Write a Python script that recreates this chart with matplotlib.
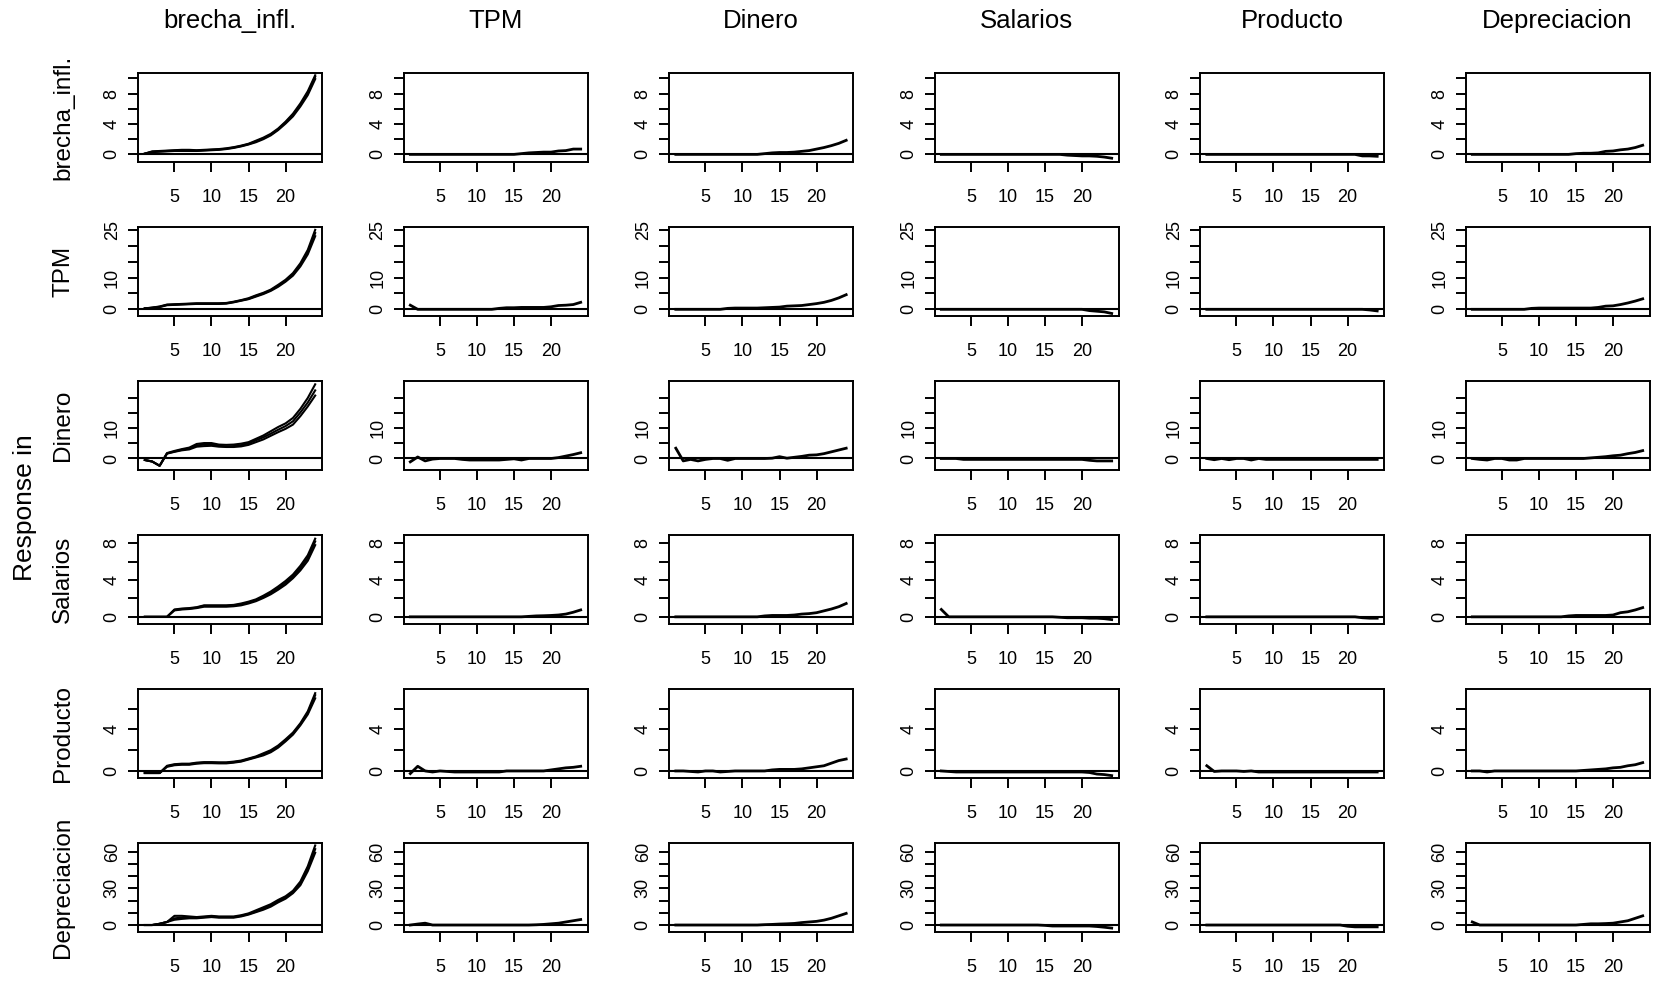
import numpy as np
import matplotlib.pyplot as plt

plt.rcParams["font.family"] = ["Liberation Sans", "DejaVu Sans"]

variables = ["brecha_infl.", "TPM", "Dinero", "Salarios", "Producto", "Depreciacion"]
horizon = list(range(1, 25))

# responses of each variable (row) to a shock in each variable (column)
resp_brecha = [
    [0.1, 0.35, 0.4, 0.45, 0.5, 0.55, 0.5, 0.5, 0.55, 0.6, 0.65, 0.75, 0.9, 1.1, 1.35, 1.7, 2.1, 2.6, 3.3, 4.2, 5.2, 6.5, 8.1, 10.2],
    [0, 0, 0, 0, 0, 0, 0, 0, 0, 0, 0, 0, 0, 0, 0, 0.1, 0.2, 0.25, 0.3, 0.3, 0.45, 0.5, 0.7, 0.7],
    [0, 0, 0, 0, 0, 0, 0, 0, 0, 0, 0, 0, 0.1, 0.2, 0.25, 0.25, 0.3, 0.4, 0.5, 0.7, 0.9, 1.15, 1.45, 1.85],
    [0, 0, 0, 0, 0, 0, 0, 0, 0, 0, 0, 0, 0, 0, 0, 0, 0, -0.1, -0.15, -0.2, -0.2, -0.25, -0.35, -0.5],
    [0, 0, 0, 0, 0, 0, 0, 0, 0, 0, 0, 0, 0, 0, 0, 0, 0, 0, 0, 0, 0, -0.2, -0.2, -0.25],
    [0, 0, 0, 0, 0, 0, 0, 0, 0, 0, 0, 0, 0, 0, 0.1, 0.15, 0.15, 0.2, 0.4, 0.45, 0.6, 0.7, 0.9, 1.2],
]
resp_tpm = [
    [0.3, 0.5, 0.8, 1.4, 1.5, 1.6, 1.7, 1.8, 1.8, 1.8, 1.8, 1.9, 2.3, 2.8, 3.3, 4.2, 5.0, 6.0, 7.4, 9.0, 11.0, 14.0, 18.0, 24.0],
    [1.3, 0, 0, 0, 0, 0, 0, 0, 0, 0, 0, 0, 0.3, 0.5, 0.5, 0.6, 0.6, 0.6, 0.6, 0.8, 1.2, 1.3, 1.5, 2.2],
    [0, 0, 0, 0, 0, 0, 0, 0.3, 0.4, 0.4, 0.4, 0.4, 0.5, 0.6, 0.7, 1.0, 1.1, 1.2, 1.5, 1.8, 2.2, 2.8, 3.6, 4.6],
    [0, 0, 0, 0, 0, 0, 0, 0, 0, 0, 0, 0, 0, 0, 0, 0, 0, 0, 0, 0, -0.4, -0.6, -0.8, -1.3],
    [0, 0, 0, 0, 0, 0, 0, 0, 0, 0, 0, 0, 0, 0, 0, 0, 0, 0, 0, 0, 0, 0, -0.2, -0.5],
    [0, 0, 0, 0, 0, 0, 0, 0, 0.3, 0.4, 0.4, 0.4, 0.4, 0.4, 0.4, 0.4, 0.4, 0.6, 1.0, 1.1, 1.5, 2.0, 2.6, 3.3],
]
resp_dinero = [
    [-0.5, -1.0, -2.4, 1.7, 2.3, 2.9, 3.3, 4.3, 4.6, 4.6, 4.2, 4.0, 4.1, 4.4, 5.0, 6.0, 7.0, 8.2, 9.5, 10.7, 12.3, 15.2, 18.5, 22.5],
    [-1.1, 0.5, -0.8, -0.2, 0, 0, 0, -0.3, -0.5, -0.5, -0.5, -0.5, -0.5, -0.3, -0.1, -0.5, 0, 0, 0, 0, 0.3, 0.8, 1.3, 1.9],
    [3.4, -0.8, -0.3, -0.8, -0.3, 0, 0, -0.6, 0, 0, 0, 0, 0, 0.1, 0.6, 0.1, 0.4, 0.7, 1.1, 1.2, 1.6, 2.2, 2.8, 3.4],
    [0, 0, 0, -0.3, -0.3, -0.3, -0.3, -0.3, -0.3, -0.3, -0.3, -0.3, -0.3, -0.3, -0.3, -0.3, -0.3, -0.3, -0.3, -0.3, -0.6, -0.8, -0.8, -0.8],
    [0, -0.4, 0, -0.4, 0, 0, -0.5, 0, -0.3, -0.3, -0.3, -0.3, -0.3, -0.3, -0.3, -0.3, -0.3, -0.3, -0.3, -0.3, -0.3, -0.3, -0.3, -0.3],
    [0, -0.3, -0.5, 0, 0, -0.5, -0.5, 0, 0, 0, 0, 0, 0, 0, 0, 0, 0.2, 0.4, 0.6, 0.9, 1.1, 1.6, 2.0, 2.6],
]
resp_salarios = [
    [0, 0, 0, 0, 0.75, 0.85, 0.9, 1.0, 1.2, 1.2, 1.2, 1.2, 1.25, 1.35, 1.55, 1.8, 2.2, 2.6, 3.1, 3.7, 4.4, 5.3, 6.4, 8.2],
    [0, 0, 0, 0, 0, 0, 0, 0, 0, 0, 0, 0, 0, 0, 0, 0, 0.05, 0.1, 0.12, 0.15, 0.2, 0.3, 0.5, 0.75],
    [0, 0, 0, 0, 0, 0, 0, 0, 0, 0, 0, 0, 0.1, 0.15, 0.15, 0.15, 0.2, 0.3, 0.35, 0.45, 0.65, 0.85, 1.1, 1.45],
    [0.8, 0, 0, 0, 0, 0, 0, 0, 0, 0, 0, 0, 0, 0, 0, 0, -0.05, -0.1, -0.1, -0.1, -0.15, -0.15, -0.2, -0.3],
    [0, 0, 0, 0, 0, 0, 0, 0, 0, 0, 0, 0, 0, 0, 0, 0, 0, 0, 0, 0, 0, -0.1, -0.15, -0.15],
    [0, 0, 0, 0, 0, 0, 0, 0, 0, 0, 0, 0, 0, 0.1, 0.15, 0.15, 0.15, 0.15, 0.15, 0.2, 0.45, 0.55, 0.75, 1.0],
]
resp_producto = [
    [-0.2, -0.2, -0.2, 0.45, 0.6, 0.65, 0.65, 0.75, 0.8, 0.8, 0.78, 0.78, 0.85, 0.95, 1.15, 1.35, 1.6, 1.9, 2.35, 2.95, 3.6, 4.5, 5.6, 7.3],
    [-0.25, 0.45, 0, -0.1, 0, -0.05, -0.1, -0.1, -0.1, -0.1, -0.1, -0.1, -0.1, 0, 0, 0, 0, 0, 0, 0.1, 0.2, 0.3, 0.35, 0.45],
    [0, 0, -0.05, -0.1, 0, 0, -0.1, -0.05, 0, 0, 0, 0, 0, 0.1, 0.15, 0.15, 0.15, 0.2, 0.3, 0.4, 0.5, 0.75, 1.0, 1.15],
    [0, -0.05, -0.1, -0.1, -0.1, -0.1, -0.1, -0.1, -0.1, -0.1, -0.1, -0.1, -0.1, -0.1, -0.1, -0.1, -0.1, -0.1, -0.1, -0.1, -0.15, -0.3, -0.35, -0.45],
    [0.5, -0.05, 0, 0, 0, -0.05, 0, -0.1, -0.1, -0.1, -0.1, -0.1, -0.1, -0.1, -0.1, -0.1, -0.1, -0.1, -0.1, -0.1, -0.1, -0.1, -0.1, -0.1],
    [0, 0, -0.1, 0, 0, 0, 0, 0, 0, 0, 0, 0, 0, 0, 0, 0.05, 0.1, 0.15, 0.2, 0.3, 0.35, 0.5, 0.6, 0.8],
]
resp_deprec = [
    [0, 0, 1.0, 2.5, 5.5, 6.0, 6.0, 6.0, 6.5, 7.0, 6.5, 6.5, 6.5, 7.5, 9.0, 11.0, 13.5, 16.0, 19.5, 22.5, 27.0, 34.0, 46.0, 62.0],
    [0, 0.8, 1.5, 0, 0, 0, 0, 0, 0, 0, 0, 0, 0, 0, 0, 0, 0, 0.2, 0.5, 1.0, 1.5, 2.5, 3.5, 4.5],
    [0, 0, 0, 0, 0, 0, 0, 0, 0, 0, 0, 0, 0.3, 0.5, 0.8, 1.0, 1.3, 2.0, 2.5, 3.0, 4.0, 5.5, 7.5, 9.5],
    [0, 0, 0, 0, 0, 0, 0, 0, 0, 0, 0, 0, 0, 0, -0.3, -0.8, -0.8, -0.8, -0.8, -0.8, -0.8, -1.2, -1.8, -2.5],
    [0, 0, 0, 0, 0, 0, 0, 0, 0, 0, 0, 0, 0, 0, 0, 0, 0, 0, 0, -1.0, -1.5, -1.5, -1.5, -1.5],
    [2.5, 0, 0, 0, 0, 0, 0, 0, 0, 0, 0, 0, 0, 0, 0, 0.5, 1.0, 1.0, 1.2, 1.5, 2.5, 3.5, 5.5, 7.5],
]

# confidence bands for the brecha_infl. shock (first column), one list per response
lo_brecha_shock = [
    [0.1, 0.3, 0.35, 0.4, 0.45, 0.45, 0.45, 0.45, 0.5, 0.55, 0.6, 0.7, 0.85, 1.05, 1.3, 1.6, 2.0, 2.5, 3.2, 4.05, 5.0, 6.3, 7.8, 9.9],
    [0.3, 0.45, 0.7, 1.3, 1.4, 1.5, 1.6, 1.7, 1.7, 1.7, 1.7, 1.8, 2.2, 2.7, 3.2, 4.0, 4.8, 5.8, 7.1, 8.7, 10.6, 13.5, 17.3, 23.0],
    [-0.5, -1.0, -2.4, 1.6, 2.2, 2.7, 3.0, 3.9, 4.1, 4.2, 3.9, 3.8, 3.8, 4.0, 4.5, 5.4, 6.3, 7.5, 8.7, 9.8, 11.2, 14.0, 17.2, 20.8],
    [0, 0, 0, 0, 0.7, 0.8, 0.85, 0.95, 1.1, 1.1, 1.1, 1.1, 1.15, 1.25, 1.45, 1.7, 2.05, 2.45, 2.95, 3.5, 4.2, 5.05, 6.1, 7.8],
    [-0.2, -0.2, -0.2, 0.4, 0.55, 0.6, 0.6, 0.7, 0.75, 0.75, 0.73, 0.73, 0.8, 0.9, 1.1, 1.3, 1.5, 1.8, 2.25, 2.85, 3.5, 4.4, 5.45, 7.0],
    [0, 0, 1.0, 2.5, 4.3, 5.0, 5.5, 5.5, 6.0, 6.5, 6.0, 6.0, 6.0, 7.0, 8.5, 10.5, 12.5, 15.0, 18.5, 21.5, 26.0, 32.5, 44.0, 59.0],
]
hi_brecha_shock = [
    [0.1, 0.4, 0.45, 0.5, 0.55, 0.6, 0.6, 0.55, 0.6, 0.65, 0.7, 0.8, 0.95, 1.15, 1.4, 1.8, 2.2, 2.7, 3.4, 4.3, 5.35, 6.7, 8.3, 10.4],
    [0.3, 0.55, 0.9, 1.5, 1.6, 1.7, 1.8, 1.9, 1.9, 1.9, 1.9, 2.0, 2.4, 2.9, 3.5, 4.4, 5.2, 6.2, 7.7, 9.3, 11.4, 14.5, 18.7, 25.0],
    [-0.5, -1.0, -2.4, 1.8, 2.5, 3.1, 3.6, 4.8, 5.1, 5.1, 4.6, 4.5, 4.6, 4.9, 5.4, 6.5, 7.6, 9.0, 10.4, 11.6, 13.4, 16.4, 20.0, 24.5],
    [0, 0, 0, 0, 0.8, 0.9, 0.95, 1.05, 1.25, 1.25, 1.25, 1.25, 1.3, 1.45, 1.65, 1.9, 2.3, 2.75, 3.3, 3.9, 4.6, 5.55, 6.7, 8.5],
    [-0.2, -0.2, -0.2, 0.5, 0.65, 0.7, 0.7, 0.8, 0.85, 0.85, 0.83, 0.83, 0.9, 1.0, 1.2, 1.4, 1.7, 2.0, 2.45, 3.05, 3.7, 4.6, 5.75, 7.5],
    [0, 0, 1.0, 2.5, 7.5, 7.5, 7.0, 6.5, 7.0, 7.5, 7.0, 7.0, 7.0, 8.0, 9.5, 12.0, 14.5, 17.0, 20.5, 23.5, 28.0, 35.5, 48.0, 65.0],
]

responses = [resp_brecha, resp_tpm, resp_dinero, resp_salarios, resp_producto, resp_deprec]

# shared y axis per row
row_ylim = [(-1.0, 10.7), (-2.1, 25.9), (-3.8, 25.6), (-0.78, 8.9), (-0.68, 7.9), (-5.7, 67)]
row_yticks = [[0, 2, 4, 6, 8, 10], [0, 5, 10, 15, 20, 25], [0, 5, 10, 15, 20],
              [0, 2, 4, 6, 8], [0, 2, 4, 6], [0, 10, 20, 30, 40, 50, 60]]
row_ylabels = [["0", "", "4", "", "8", ""], ["0", "", "10", "", "", "25"], ["0", "", "10", "", ""],
               ["0", "", "4", "", "8"], ["0", "", "4", ""], ["0", "", "", "30", "", "", "60"]]

W, H = 1657, 984
fig = plt.figure(figsize=(W / 100, H / 100), dpi=100)

left0, top0 = 138, 73
col_step, row_step = 265.5, 154
box_w, box_h = 184, 89

for i in range(6):
    for j in range(6):
        x0 = left0 + j * col_step
        y0 = top0 + i * row_step
        ax = fig.add_axes([x0 / W, 1 - (y0 + box_h) / H, box_w / W, box_h / H])
        ax.axhline(0, color="black", lw=1.5)
        if j == 0:
            ax.plot(horizon, lo_brecha_shock[i], color="black", lw=1.5)
            ax.plot(horizon, hi_brecha_shock[i], color="black", lw=1.5)
            ax.plot(horizon, responses[i][j], color="black", lw=1.5)
        else:
            ax.plot(horizon, responses[i][j], color="black", lw=2.0)
        ax.set_xlim(0.08, 24.92)
        ax.set_ylim(*row_ylim[i])
        ax.set_xticks([5, 10, 15, 20])
        ax.set_yticks(row_yticks[i])
        ax.set_yticklabels(row_ylabels[i], rotation=90, va="center")
        ax.tick_params(direction="out", length=7.5, width=1.4, labelsize=13)
        ax.tick_params(axis="x", pad=12)
        ax.tick_params(axis="y", pad=5)
        for s in ax.spines.values():
            s.set_linewidth(1.4)

        if i == 0:
            fig.text((x0 + box_w / 2) / W, 1 - 21 / H, variables[j],
                     ha="center", va="center", fontsize=18.5)
        if j == 0:
            fig.text(63 / W, 1 - (y0 + box_h / 2) / H, variables[i],
                     ha="center", va="center", rotation=90, fontsize=17.5)

fig.text(25 / W, 1 - 508 / H, "Response in", ha="center", va="center",
         rotation=90, fontsize=19)

fig.savefig("out.png", dpi=100)
